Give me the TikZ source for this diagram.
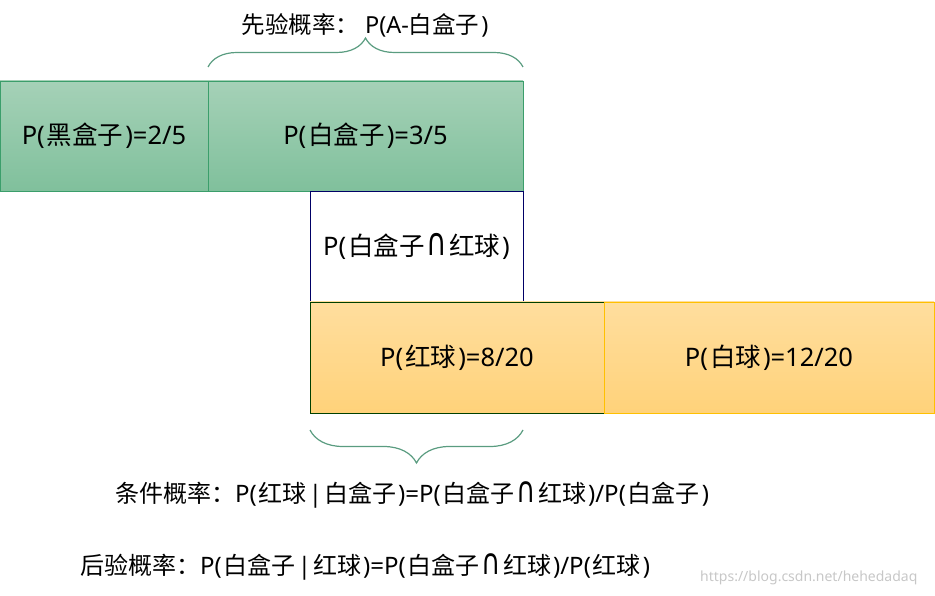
\documentclass[tikz,border=0pt]{standalone}
\usepackage{fontspec}
\setmainfont{Noto Sans}
\newfontfamily\zhfont{Noto Sans CJK SC}
\newfontfamily\symfont{DejaVu Sans}
\newcommand{\zh}[1]{\hspace{2pt}{\zhfont #1}\hspace{2pt}}
\newcommand{\cut}{\scalebox{1.1}[1.5]{\symfont ∩}}
\usepackage{tikz}
\usetikzlibrary{positioning,decorations.pathreplacing}
\definecolor{greentop}{HTML}{A5D1B7}
\definecolor{greenbot}{HTML}{80C09C}
\definecolor{greenline}{HTML}{3B9E6B}
\definecolor{orangetop}{HTML}{FFDE9E}
\definecolor{orangebot}{HTML}{FFD27A}
\definecolor{orangeline}{HTML}{FFC000}
\definecolor{braceline}{HTML}{5A9C80}
\begin{document}
\begin{tikzpicture}[x=1pt, y=1pt, node distance=0pt] %Bayes boxes
			\tikzstyle{probbox} = [rectangle, draw, outer sep=0pt, inner sep=0pt, text centered, font=\fontsize{25.5}{30}\selectfont]
			\tikzstyle{greenbox} = [probbox, draw=greenline, top color=greentop, bottom color=greenbot, minimum height=110pt]
			\tikzstyle{orangebox} = [probbox, top color=orangetop, bottom color=orangebot, minimum height=111pt]
			\tikzstyle{bracket} = [decorate, draw=braceline, line width=1.2pt]
			\tikzstyle{formula} = [anchor=west, inner sep=0pt, font=\fontsize{24}{28}\selectfont]
			\useasboundingbox (0,0) rectangle (935,595);
			\node[greenbox, minimum width=208pt, anchor=north west] (blackbox) at (0,514) {P(\zh{黑盒子})=2/5};
			\node[greenbox, minimum width=315pt, right=of blackbox] (whitebox) {P(\zh{白盒子})=3/5};
			\node[probbox, draw=blue!40!black, fill=white, minimum width=213pt, minimum height=111pt, below=of whitebox.south east, anchor=north east] (interbox) {P(\zh{白盒子}\cut\zh{红球})};
			\node[orangebox, draw=green!25!black, minimum width=294pt, anchor=north west] (redball) at (interbox.south west) {P(\zh{红球})=8/20};
			\node[orangebox, draw=orangeline, minimum width=330pt, right=of redball] (whiteball) {P(\zh{白球})=12/20};
			% braces
			\draw[bracket, decoration={brace, amplitude=29pt, raise=14pt}] (whitebox.north west) -- (whitebox.north east);
			\coordinate (interend) at (interbox.east |- redball.south);
			\draw[bracket, decoration={brace, amplitude=33pt, raise=17pt}] (interend) -- (redball.south west);
			\node[font=\fontsize{23.5}{27}\selectfont, inner sep=0pt] (prior) at (365,570) {{\zhfont 先验概率：}\hspace{6pt}P(A-{\zhfont 白盒子}\hspace{2pt})};
			\node[formula] (cond) at (115,100) {{\zhfont 条件概率：}P(\zh{红球}|\zh{白盒子})=P(\zh{白盒子}\cut\zh{红球})/P(\zh{白盒子})};
			\node[formula] (post) at (80,28) {{\zhfont 后验概率：}P(\zh{白盒子}|\zh{红球})=P(\zh{白盒子}\cut\zh{红球})/P(\zh{红球})};
			\node[anchor=west, inner sep=0pt, text=black!22, font=\fontsize{14}{16}\selectfont] (mark) at (700,17) {https://blog.csdn.net/hehedadaq};
		\end{tikzpicture}
\end{document}
